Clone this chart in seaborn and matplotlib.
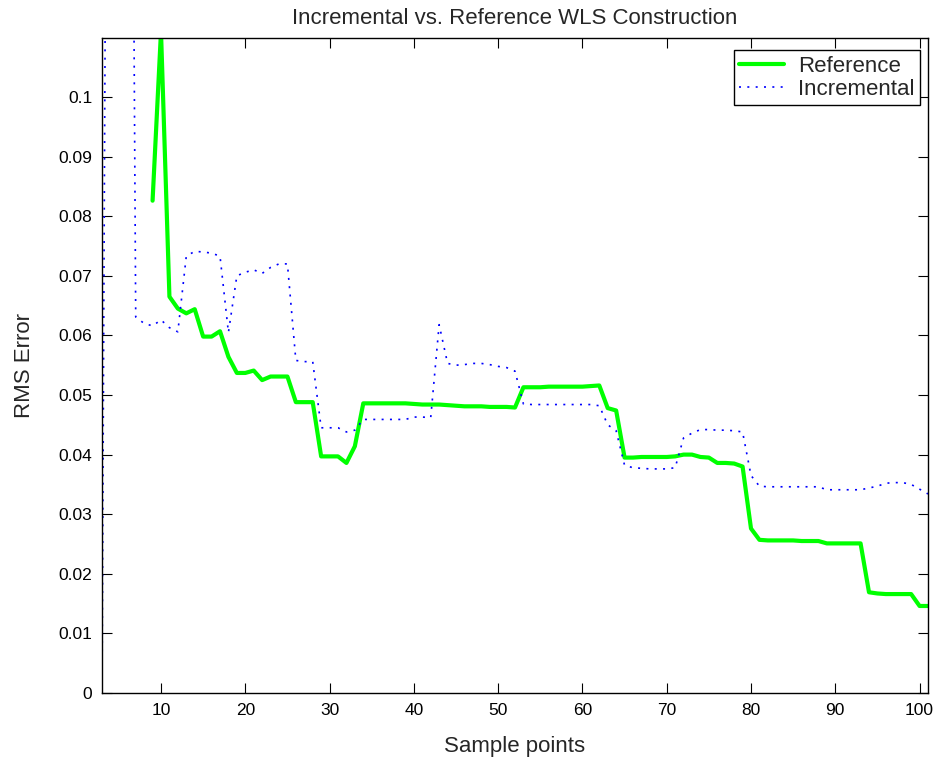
import numpy as np
import pandas as pd
import matplotlib
matplotlib.use("Agg")
import matplotlib.pyplot as plt
import seaborn as sns

nan = np.nan

sample_points = list(range(3, 102))

reference_rms = [nan, nan, nan, nan, nan, nan,
                 0.0826, 0.1110,
                 0.0665, 0.0645, 0.0637, 0.0644, 0.0598, 0.0598, 0.0607, 0.0564, 0.0537, 0.0537,
                 0.0541, 0.0525, 0.0531, 0.0531, 0.0531, 0.0488, 0.0488, 0.0488, 0.0397, 0.0397,
                 0.0397, 0.0386, 0.0414, 0.0486, 0.0486, 0.0486, 0.0486, 0.0486, 0.0486, 0.0485,
                 0.0484, 0.0484, 0.0484, 0.0483, 0.0482, 0.0481, 0.0481, 0.0481, 0.0480, 0.0480,
                 0.0480, 0.0479, 0.0513, 0.0513, 0.0513, 0.0514, 0.0514, 0.0514, 0.0514, 0.0514,
                 0.0515, 0.0516, 0.0478, 0.0474, 0.0395, 0.0395, 0.0396, 0.0396, 0.0396, 0.0396,
                 0.0397, 0.0400, 0.0400, 0.0396, 0.0395, 0.0386, 0.0386, 0.0385, 0.0380, 0.0276,
                 0.0257, 0.0256, 0.0256, 0.0256, 0.0256, 0.0255, 0.0255, 0.0255, 0.0251, 0.0251,
                 0.0251, 0.0251, 0.0251, 0.0169, 0.0167, 0.0166, 0.0166, 0.0166, 0.0166, 0.0146,
                 0.0146]

incremental_rms = [0.0, 0.30, 0.30, 0.30, 0.0631, 0.0620, 0.0616, 0.0626,
                   0.0613, 0.0606, 0.0733, 0.0741, 0.0740, 0.0738, 0.0733, 0.0605, 0.0700, 0.0706,
                   0.0710, 0.0704, 0.0714, 0.0720, 0.0720, 0.0558, 0.0556, 0.0556, 0.0445, 0.0445,
                   0.0445, 0.0438, 0.0441, 0.0459, 0.0459, 0.0459, 0.0459, 0.0459, 0.0459, 0.0463,
                   0.0463, 0.0462, 0.0618, 0.0553, 0.0550, 0.0551, 0.0553, 0.0553, 0.0551, 0.0548,
                   0.0546, 0.0540, 0.0485, 0.0484, 0.0484, 0.0484, 0.0484, 0.0484, 0.0484, 0.0484,
                   0.0484, 0.0482, 0.0450, 0.0440, 0.0382, 0.0378, 0.0377, 0.0376, 0.0376, 0.0376,
                   0.0378, 0.0428, 0.0436, 0.0442, 0.0442, 0.0441, 0.0441, 0.0440, 0.0438, 0.0365,
                   0.0347, 0.0346, 0.0346, 0.0346, 0.0346, 0.0346, 0.0346, 0.0346, 0.0341, 0.0341,
                   0.0341, 0.0341, 0.0341, 0.0344, 0.0347, 0.0352, 0.0353, 0.0353, 0.0350, 0.0342,
                   0.0334]

x_ticks = [10, 20, 30, 40, 50, 60, 70, 80, 90, 100]
x_tick_labels = ["10", "20", "30", "40", "50", "60", "70", "80", "90", "100"]
y_ticks = [0, 0.01, 0.02, 0.03, 0.04, 0.05, 0.06, 0.07, 0.08, 0.09, 0.1]
y_tick_labels = ["0", "0.01", "0.02", "0.03", "0.04", "0.05", "0.06", "0.07", "0.08", "0.09", "0.1"]

series_names = ["Reference", "Incremental"]

sns.set_style("ticks")
plt.rcParams['font.family'] = ['Liberation Sans', 'DejaVu Sans']

df_ref = pd.DataFrame({"x": sample_points, "y": reference_rms}).dropna()
df_inc = pd.DataFrame({"x": sample_points, "y": incremental_rms})

fig = plt.figure(figsize=(9.38, 7.61), dpi=100)
ax = fig.add_axes([102 / 938, 1 - 693 / 761, (928 - 102) / 938, (693 - 38) / 761])

sns.lineplot(data=df_ref, x="x", y="y", ax=ax, color="#00ff00", linewidth=3.0,
             estimator=None, sort=False, label=series_names[0])
sns.lineplot(data=df_inc, x="x", y="y", ax=ax, color="#0000ff", linewidth=1.2,
             linestyle=(0, (1.2, 3.8)), estimator=None, sort=False, label=series_names[1])

ax.set_xlim(3, 101)
ax.set_ylim(0, 0.1099)
ax.set_xticks(x_ticks)
ax.set_xticklabels(x_tick_labels)
ax.set_yticks(y_ticks)
ax.set_yticklabels(y_tick_labels)

ax.tick_params(direction="in", top=True, right=True, length=7, width=0.8,
               labelsize=12.5, colors="black", pad=7)
for s in ax.spines.values():
    s.set_visible(True)
    s.set_color("black")
    s.set_linewidth(1.0)

ax.set_xlabel("Sample points", fontsize=16, labelpad=13)
ax.set_ylabel("RMS Error", fontsize=16, labelpad=17)
ax.set_title("Incremental vs. Reference WLS Construction", fontsize=16, pad=10)

leg = ax.legend(loc="upper right", bbox_to_anchor=((920 - 102) / 826, (693 - 50) / 655),
                fontsize=16, frameon=True, fancybox=False,
                edgecolor="black", framealpha=1, borderaxespad=0.0,
                handlelength=2.0, borderpad=0.25, labelspacing=0.1, handletextpad=0.65)
leg.get_frame().set_linewidth(1.0)

fig.savefig("out.png", dpi=100)
